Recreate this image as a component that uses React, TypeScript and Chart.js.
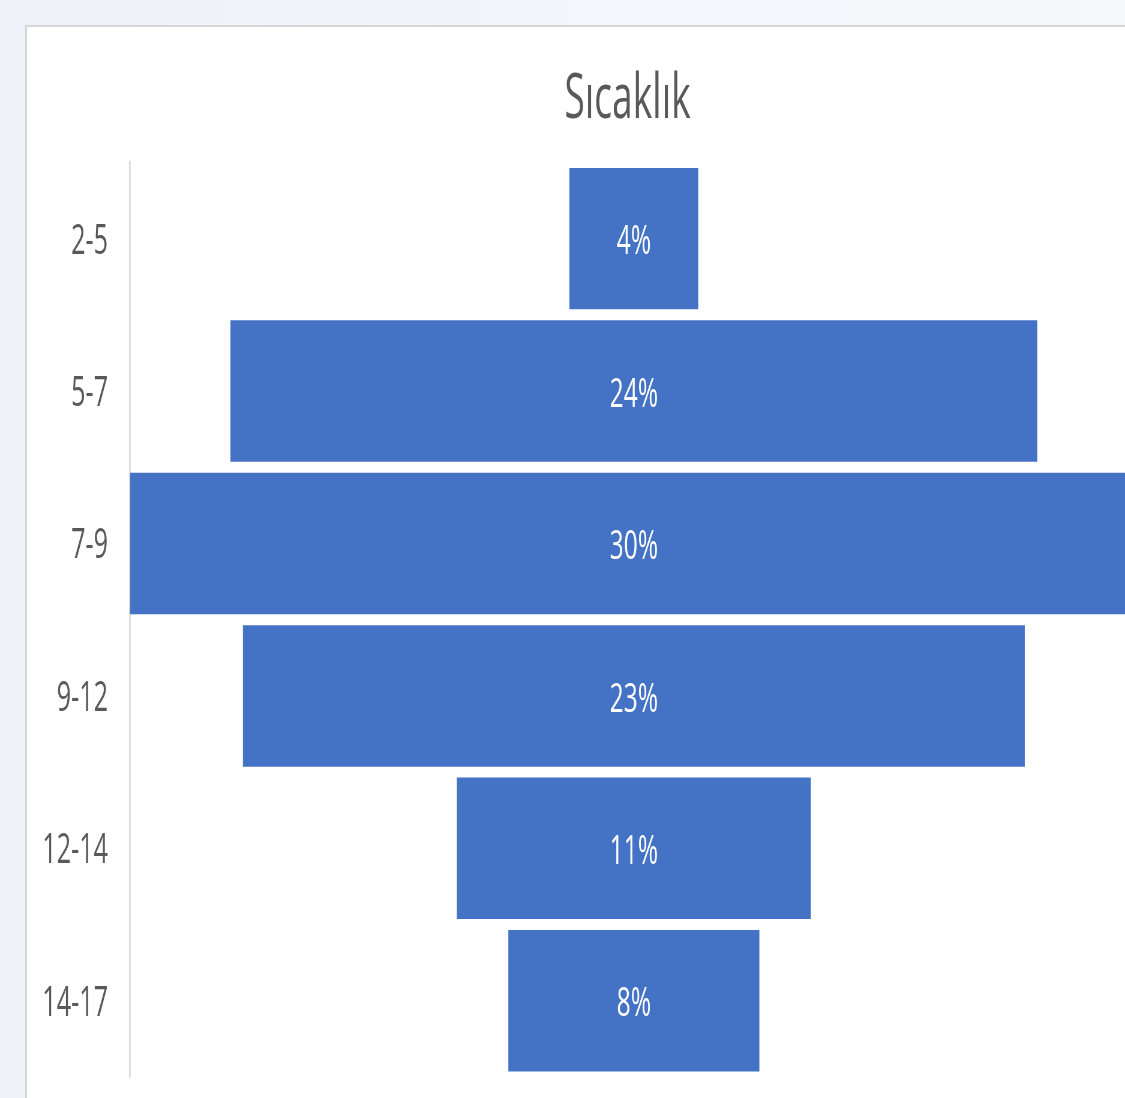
import React, { useEffect, useRef } from "react";
import { Chart, registerables } from "chart.js";

Chart.register(...registerables);

const titleText = "Sıcaklık";
const categories = ["2-5", "5-7", "7-9", "9-12", "12-14", "14-17"];
const shares = [3.87, 24.23, 30.25, 23.48, 10.63, 7.54];
const shareLabels = ["4%", "24%", "30%", "23%", "11%", "8%"];

const SX = 0.6;
const FONT = "'Open Sans', 'Noto Sans', sans-serif";

const dataLabelPlugin = {
  id: "funnelLabels",
  afterDatasetsDraw(chart: any) {
    const ctx = chart.ctx;
    const meta = chart.getDatasetMeta(0);
    ctx.save();
    ctx.fillStyle = "#ffffff";
    ctx.font = `41px ${FONT}`;
    ctx.textAlign = "center";
    ctx.textBaseline = "middle";
    meta.data.forEach((el: any, i: number) => {
      const p = el.getProps(["x", "y", "base"], true);
      const cx = (p.x + p.base) / 2;
      ctx.fillText(shareLabels[i], cx, p.y + 4);
    });
    ctx.restore();
  },
};

export default function App() {
  const ref = useRef<HTMLCanvasElement | null>(null);
  useEffect(() => {
    if (!ref.current) return;
    const chart = new Chart(ref.current, {
      type: "bar",
      data: {
        labels: categories,
        datasets: [
          {
            data: shares.map((v) => [-v / 2, v / 2]) as any,
            backgroundColor: "#4472C4",
            borderWidth: 0,
            barPercentage: 0.928,
            categoryPercentage: 1,
          },
        ],
      },
      options: {
        indexAxis: "y",
        animation: false,
        responsive: true,
        maintainAspectRatio: false,
        layout: { padding: { left: 0, right: 0, top: 0, bottom: 21 } },
        plugins: {
          legend: { display: false },
          tooltip: { enabled: false },
          title: {
            display: true,
            text: titleText,
            fullSize: false,
            color: "#595959",
            font: { family: FONT, size: 62, weight: "normal" as any, lineHeight: 1.2 },
            padding: { top: 36, bottom: 25 },
          },
        },
        scales: {
          x: {
            display: false,
            min: -15.13,
            max: 14.75,
          },
          y: {
            grid: {
              display: true,
              drawOnChartArea: false,
              drawTicks: true,
              tickLength: 36.7,
              color: "rgba(0,0,0,0)",
            },
            border: { display: true, color: "#d9d9d9", width: 2.6 },
            ticks: {
              color: "#595959",
              font: { family: FONT, size: 42, lineHeight: 1 },
              padding: 0,
              labelOffset: 3,
            },
            afterFit(scale: any) {
              scale.width = 171.7;
            },
          },
        },
      },
      plugins: [dataLabelPlugin],
    });
    return () => chart.destroy();
  }, []);

  return (
    <div
      style={{
        position: "fixed",
        left: 0,
        top: 0,
        width: 1125,
        height: 1098,
        overflow: "hidden",
        background: "linear-gradient(90deg, #eef2f8 0%, #f3f6fa 60%, #f6f8fb 100%)",
      }}
    >
      <div
        style={{
          position: "absolute",
          left: 25,
          top: 25,
          width: 1200,
          height: 1200,
          background: "#ffffff",
          borderLeft: "2px solid #d6d6d6",
          borderTop: "2px solid #d6d6d6",
        }}
      />
      <div
        style={{
          position: "absolute",
          left: 27,
          top: 27,
          width: 1830,
          height: 1071,
          transform: `scaleX(${SX})`,
          transformOrigin: "0 0",
        }}
      >
        <canvas ref={ref} />
      </div>
    </div>
  );
}
